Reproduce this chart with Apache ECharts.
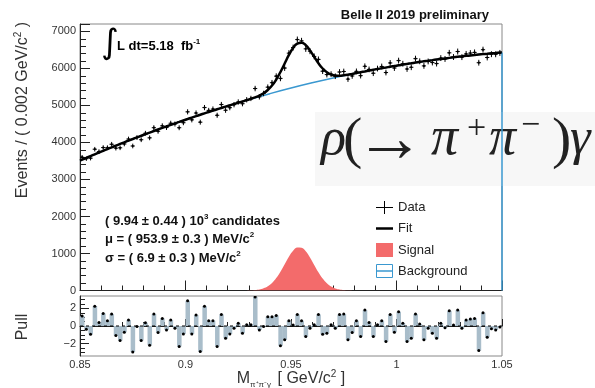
<!DOCTYPE html>
<html><head><meta charset="utf-8">
<script src="https://cdn.jsdelivr.net/npm/echarts@6/dist/echarts.min.js"></script>
<style>html,body{margin:0;padding:0;background:#fff}#c{width:595px;height:388px}</style>
</head><body><div id="c"></div>
<script>
// ---- values ----
const xMin = 0.85, xMax = 1.05, binWidth = 0.002;
const dataValues = [
3601, 3561, 3575, 3817, 3752, 3861, 3858, 3951, 3845, 3855,
3959, 4092, 3904, 4132, 4073, 4248, 4124, 4398, 4301, 4449,
4403, 4519, 4498, 4397, 4533, 4827, 4610, 4795, 4548, 4942,
4865, 4902, 4734, 5024, 4870, 4939, 5020, 5093, 5047, 5153,
5189, 5456, 5232, 5323, 5493, 5614, 5791, 5730, 6010, 6412,
6563, 6779, 6744, 6528, 6465, 6324, 6243, 5925, 5833, 5846,
5788, 5903, 5917, 5711, 5796, 5920, 5805, 6057, 5973, 5870,
5996, 6052, 5888, 6148, 6010, 6211, 6126, 5984, 6031, 6264,
6192, 6068, 6188, 6159, 6130, 6279, 6255, 6421, 6308, 6456,
6305, 6392, 6414, 6432, 6154, 6506, 6295, 6384, 6382, 6419];
const pullValues = [
1.12, -0.37, -0.94, 2.25, 0.41, 1.42, 0.6, 1.35, -1.09, -1.65,
-0.71, 0.67, -2.96, -0.07, -1.65, 0.37, -2.17, 1.35, -0.75, 0.86,
-0.45, 0.67, -0.26, -2.32, -0.9, 2.85, -0.9, 1.24, -2.9, 2.25,
0.6, 0.6, -2.32, 1.31, -1.39, -0.9, -0.26, 0.3, -0.82, 0.15,
0.15, 3.3, -0.45, -0.07, 1.05, 1.05, 1.2, -2.25, -1.57, 0.6,
0.11, 1.31, 0.6, -1.2, -0.26, 0.15, 1.31, -0.94, -0.82, 0.15,
-0.26, 1.31, 1.35, -1.57, -0.75, 0.6, -1.2, 1.8, 0.41, -1.2,
0.15, 0.6, -1.76, 1.31, -0.71, 1.61, 0.3, -1.76, -1.39, 1.35,
0.22, -1.57, -0.26, -0.82, -1.39, 0.3, -0.19, 1.72, 0.11, 1.8,
-0.26, 0.67, 0.79, 0.86, -2.77, 1.5, -1.27, -0.3, -0.45, -0.11];
const fitValues = [
3535, 3583, 3632, 3680, 3727, 3774, 3821, 3867, 3913, 3959,
4004, 4049, 4093, 4137, 4180, 4224, 4266, 4309, 4351, 4392,
4433, 4474, 4515, 4554, 4594, 4633, 4672, 4710, 4748, 4786,
4823, 4860, 4896, 4932, 4968, 5003, 5038, 5072, 5107, 5142,
5178, 5218, 5265, 5328, 5416, 5536, 5700, 5903, 6133, 6364,
6554, 6672, 6695, 6626, 6486, 6312, 6140, 5998, 5896, 5835,
5808, 5803, 5814, 5831, 5853, 5874, 5897, 5919, 5941, 5963,
5984, 6005, 6025, 6046, 6065, 6085, 6103, 6122, 6140, 6158,
6175, 6192, 6208, 6224, 6240, 6255, 6270, 6285, 6299, 6313,
6326, 6339, 6351, 6363, 6375, 6386, 6397, 6408, 6418, 6428];
const fitEdgeValues = [3510, 6432];
const bkgX = [0.85,0.86,0.87,0.88,0.89,0.90,0.91,0.92,0.93,0.94,0.95,0.96,0.97,0.98,0.99,1.00,1.01,1.02,1.03,1.04,1.05];
const bkgValues = [3510,3751,3981,4202,4413,4614,4805,4986,5157,5318,5469,5610,5741,5862,5974,6075,6166,6248,6319,6381,6432];
const signalStartBin = 34;
const signalValues = [0,0,0,0.5,1, 2,5,12,27,58, 114,203,336,509,709, 910,1071,1160,1155,1058, 890,689,490,321,193, 107,54,25,11,4, 2,1,0,0,0];
const xTickLabels = ['0.85','0.9','0.95','1','1.05'];
const yTickLabels = ['0','1000','2000','3000','4000','5000','6000','7000'];
const pullTickLabels = ['−2','0','2'];

// ---- build ----
const center = i => +(xMin + binWidth * (i + 0.5)).toFixed(4);
const dataPts = dataValues.map((v, i) => [center(i), v]);
const pullPts = pullValues.map((v, i) => [center(i), v]);
const fitPts = [[xMin, fitEdgeValues[0]]].concat(fitValues.map((v, i) => [center(i), v]), [[xMax, fitEdgeValues[1]]]);
const bkgPts = bkgX.map((x, i) => [x, bkgValues[i]]);
const sigPts = signalValues.map((v, k) => [center(signalStartBin + k), v]);

const FONT = 'Liberation Sans, Arial, sans-serif';
const SERIF = 'Liberation Serif, DejaVu Serif, serif';
const BLUE = '#3a98d0', RED = '#f36b6b', PULLC = '#a9bdca';

const chart = echarts.init(document.getElementById('c'), null, {renderer: 'canvas'});
const axisCommon = {axisLine: {lineStyle: {color: '#222', width: 1}}, splitLine: {show: false}};

function ftext(x, y, txt, size, italic) {
  return {type: 'text', x: x, y: y, style: {text: txt, font: (italic ? 'italic ' : '') + size + 'px ' + SERIF, fill: '#222',
    verticalAlign: 'middle', textVerticalAlign: 'middle'}};
}

chart.setOption({
  animation: false,
  grid: [
    {left: 80, top: 24, width: 422, height: 266.5, show: true, borderColor: '#888', borderWidth: 1},
    {left: 80, top: 296, width: 422, height: 60, show: true, borderColor: '#888', borderWidth: 1}
  ],
  xAxis: [
    Object.assign({gridIndex: 0, type: 'value', min: xMin, max: xMax, interval: 0.05,
      axisLabel: {show: false},
      axisTick: {inside: true, length: 10, lineStyle: {color: '#222'}},
      minorTick: {show: true, splitNumber: 5, length: 5, lineStyle: {color: '#222'}}}, axisCommon),
    Object.assign({gridIndex: 1, type: 'value', min: xMin, max: xMax, interval: 0.05,
      axisLabel: {fontSize: 11, color: '#333', fontFamily: FONT, margin: 3,
        formatter: v => { const k = Math.round((v - xMin) / 0.05); return xTickLabels[k] || ''; }},
      axisTick: {inside: true, length: 7, lineStyle: {color: '#222'}},
      minorTick: {show: true, splitNumber: 5, length: 4, lineStyle: {color: '#222'}}}, axisCommon)
  ],
  yAxis: [
    Object.assign({gridIndex: 0, type: 'value', min: 0, max: 7200, interval: 1000,
      axisLabel: {fontSize: 11, color: '#333', fontFamily: FONT, margin: 4, showMaxLabel: false,
        formatter: v => { const k = Math.round(v / 1000); return (Math.abs(v - k * 1000) < 1e-6 && yTickLabels[k]) ? yTickLabels[k] : ''; }},
      axisTick: {inside: true, length: 10, lineStyle: {color: '#222'}},
      minorTick: {show: true, splitNumber: 5, length: 6, lineStyle: {color: '#222'}}}, axisCommon),
    Object.assign({gridIndex: 1, type: 'value', min: -3.4, max: 3.4,
      axisLabel: {fontSize: 11, color: '#333', fontFamily: FONT, margin: 4, customValues: [-2, 0, 2],
        formatter: v => pullTickLabels[Math.round(v / 2) + 1]},
      axisTick: {inside: true, length: 9, customValues: [-2, 0, 2], lineStyle: {color: '#222'}}}, axisCommon),
    {gridIndex: 1, type: 'value', min: -3.4, max: 3.4, position: 'left',
      axisLine: {show: false}, splitLine: {show: false}, axisLabel: {show: false},
      axisTick: {inside: true, length: 5, customValues: [-3, -2.5, -1.5, -1, -0.5, 0.5, 1, 1.5, 2.5, 3], lineStyle: {color: '#222'}}}
  ],
  series: [
    {name: 'Signal', type: 'line', xAxisIndex: 0, yAxisIndex: 0, data: sigPts, smooth: 0.4, showSymbol: false,
      lineStyle: {width: 0}, areaStyle: {color: RED, opacity: 1}, z: 1},
    {name: 'Background', type: 'line', xAxisIndex: 0, yAxisIndex: 0, data: bkgPts, smooth: true, showSymbol: false,
      lineStyle: {color: BLUE, width: 1.5}, z: 2},
    {name: 'BackgroundEdge', type: 'line', xAxisIndex: 0, yAxisIndex: 0, data: [[xMax, bkgValues[bkgValues.length - 1]], [xMax, 0]],
      showSymbol: false, lineStyle: {color: BLUE, width: 1.5}, z: 4},
    {name: 'Fit', type: 'line', xAxisIndex: 0, yAxisIndex: 0, data: fitPts, smooth: true, showSymbol: false,
      lineStyle: {color: '#000', width: 2.5}, z: 3},
    {name: 'Data', type: 'custom', xAxisIndex: 0, yAxisIndex: 0, data: dataPts, encode: {x: 0, y: 1}, z: 5,
      renderItem: (params, api) => {
        const x = api.value(0), y = api.value(1), e = Math.sqrt(y);
        const p = api.coord([x, y]), t = api.coord([x, y + e]), b = api.coord([x, y - e]);
        const l = api.coord([x - binWidth / 2, y]), r = api.coord([x + binWidth / 2, y]);
        return {type: 'group', children: [
          {type: 'line', shape: {x1: p[0], y1: t[1], x2: p[0], y2: b[1]}, style: {stroke: '#000', lineWidth: 1}},
          {type: 'line', shape: {x1: l[0], y1: p[1], x2: r[0], y2: p[1]}, style: {stroke: '#000', lineWidth: 1}},
          {type: 'circle', shape: {cx: p[0], cy: p[1], r: 1.1}, style: {fill: '#000'}}
        ]};
      }},
    {name: 'Pull', type: 'custom', xAxisIndex: 1, yAxisIndex: 1, data: pullPts, encode: {x: 0, y: 1}, clip: true, z: 2,
      renderItem: (params, api) => {
        const x = api.value(0), v = api.value(1);
        const a = api.coord([x - binWidth / 2, 0]), c = api.coord([x + binWidth / 2, v]), m = api.coord([x, v]);
        return {type: 'group', children: [
          {type: 'rect', shape: {x: a[0], y: Math.min(a[1], c[1]), width: c[0] - a[0] + 0.3, height: Math.abs(c[1] - a[1])}, style: {fill: PULLC}},
          {type: 'circle', shape: {cx: m[0], cy: m[1], r: 1.5}, style: {fill: '#000'}}
        ]};
      }},
    {name: 'Zero', type: 'line', xAxisIndex: 1, yAxisIndex: 1, data: [[xMin, 0], [xMax, 0]], showSymbol: false,
      lineStyle: {color: '#000', width: 1, type: [3, 3]}, z: 4}
  ],
  graphic: [
    {type: 'text', x: 489, y: 15, style: {text: 'Belle II 2019 preliminary', font: 'bold 13px ' + FONT, fill: '#111', align: 'right', verticalAlign: 'middle', textAlign: 'right', textVerticalAlign: 'middle'}},
    {type: 'text', x: 110, y: 44, style: {text: '∫', font: '34px DejaVu Sans', fill: '#000', align: 'center', verticalAlign: 'middle', textAlign: 'center', textVerticalAlign: 'middle'}},
    {type: 'text', x: 117, y: 46, style: {text: 'L dt=5.18  fb{s|-1}', font: 'bold 13px ' + FONT, fill: '#000', verticalAlign: 'middle', textVerticalAlign: 'middle',
      rich: {s: {fontSize: 8, fontWeight: 'bold', fontFamily: FONT, verticalAlign: 'top', padding: [0, 0, 9, 0]}}}},
    {type: 'text', x: 105, y: 221, style: {text: '( 9.94 ± 0.44 ) 10{s|3} candidates', font: 'bold 13px ' + FONT, fill: '#111', verticalAlign: 'middle', textVerticalAlign: 'middle',
      rich: {s: {fontSize: 8, fontWeight: 'bold', fontFamily: FONT, verticalAlign: 'top', padding: [0, 0, 9, 0]}}}},
    {type: 'text', x: 105, y: 239.5, style: {text: 'μ = ( 953.9 ± 0.3 ) MeV/c{s|2}', font: 'bold 13px ' + FONT, fill: '#111', verticalAlign: 'middle', textVerticalAlign: 'middle',
      rich: {s: {fontSize: 8, fontWeight: 'bold', fontFamily: FONT, verticalAlign: 'top', padding: [0, 0, 9, 0]}}}},
    {type: 'text', x: 105, y: 258.5, style: {text: 'σ = ( 6.9 ± 0.3 ) MeV/c{s|2}', font: 'bold 13px ' + FONT, fill: '#111', verticalAlign: 'middle', textVerticalAlign: 'middle',
      rich: {s: {fontSize: 8, fontWeight: 'bold', fontFamily: FONT, verticalAlign: 'top', padding: [0, 0, 9, 0]}}}},
    // legend
    {type: 'line', shape: {x1: 376, y1: 207.5, x2: 393, y2: 207.5}, style: {stroke: '#000', lineWidth: 1}},
    {type: 'line', shape: {x1: 384.5, y1: 201, x2: 384.5, y2: 214}, style: {stroke: '#000', lineWidth: 1}},
    {type: 'line', shape: {x1: 376, y1: 228.5, x2: 393, y2: 228.5}, style: {stroke: '#000', lineWidth: 2.5}},
    {type: 'rect', shape: {x: 376, y: 243, width: 17, height: 14}, style: {fill: RED}},
    {type: 'rect', shape: {x: 376.5, y: 264.5, width: 16, height: 13}, style: {fill: '#fff', stroke: BLUE, lineWidth: 1}},
    {type: 'line', shape: {x1: 376, y1: 271, x2: 393, y2: 271}, style: {stroke: BLUE, lineWidth: 1.5}},
    {type: 'text', x: 398, y: 207.5, style: {text: 'Data', font: '13px ' + FONT, fill: '#222', verticalAlign: 'middle', textVerticalAlign: 'middle'}},
    {type: 'text', x: 398, y: 228.5, style: {text: 'Fit', font: '13px ' + FONT, fill: '#222', verticalAlign: 'middle', textVerticalAlign: 'middle'}},
    {type: 'text', x: 398, y: 250, style: {text: 'Signal', font: '13px ' + FONT, fill: '#222', verticalAlign: 'middle', textVerticalAlign: 'middle'}},
    {type: 'text', x: 398, y: 271, style: {text: 'Background', font: '13px ' + FONT, fill: '#222', verticalAlign: 'middle', textVerticalAlign: 'middle'}},
    // axis titles
    {type: 'text', x: 23, y: 110, rotation: Math.PI / 2, style: {text: 'Events / ( 0.002 GeV/c{s|2} )', font: '16px ' + FONT, fill: '#333', align: 'center', verticalAlign: 'middle', textAlign: 'center', textVerticalAlign: 'middle',
      rich: {s: {fontSize: 10, fontFamily: FONT, fill: '#333', verticalAlign: 'top', padding: [0, 0, 10, 0]}}}},
    {type: 'text', x: 23, y: 327, rotation: Math.PI / 2, style: {text: 'Pull', font: '16px ' + FONT, fill: '#333', align: 'center', verticalAlign: 'middle', textAlign: 'center', textVerticalAlign: 'middle'}},
    {type: 'text', x: 291, y: 379, style: {text: 'M{b|π⁺π⁻γ} [ GeV/c{s|2} ]', font: '16px ' + FONT, fill: '#333', align: 'center', verticalAlign: 'middle', textAlign: 'center', textVerticalAlign: 'middle',
      rich: {s: {fontSize: 10, fontFamily: FONT, fill: '#333', verticalAlign: 'top', padding: [0, 0, 10, 0]},
             b: {fontSize: 8, fontFamily: FONT, fill: '#333', verticalAlign: 'bottom', padding: [8, 2, 0, 0]}}}},
    // formula inset
    {type: 'rect', shape: {x: 315, y: 112, width: 280, height: 74}, style: {fill: '#f7f7f7'}},
    ftext(321, 140, 'ρ', 52, true),
    ftext(343, 142, '(', 58, false),
    ftext(355, 143, '→', 70, false),
    ftext(431, 140, 'π', 54, true),
    ftext(467, 129, '+', 34, false),
    ftext(489, 140, 'π', 54, true),
    ftext(521, 126, '−', 34, false),
    ftext(552, 142, ')', 58, false),
    ftext(570, 140, 'γ', 52, true)
  ]
});
</script></body></html>
